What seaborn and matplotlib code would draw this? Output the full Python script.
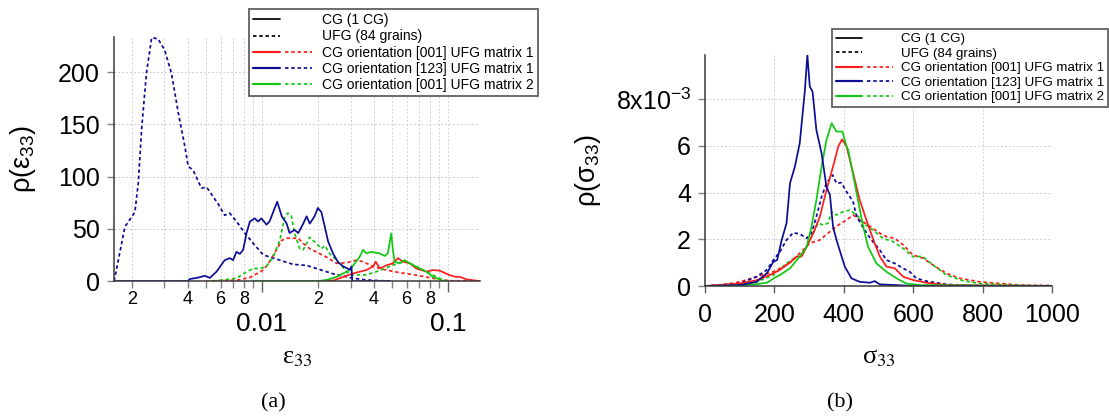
import numpy as np
import pandas as pd
import matplotlib
matplotlib.use("Agg")
import matplotlib.pyplot as plt
import seaborn as sns
from matplotlib.lines import Line2D
from matplotlib.legend_handler import HandlerTuple
from matplotlib.ticker import FixedLocator, FuncFormatter, LogLocator

# ---------------- Panel (a): rho(eps33), log x ----------------
a_blue_dot_x = [0.00161, 0.00184, 0.00208, 0.00217, 0.00226, 0.0024, 0.00256, 0.00277, 0.00301,
                0.00327, 0.00356, 0.00386, 0.00402, 0.00428, 0.00474, 0.00505, 0.00582, 0.00632,
                0.00673, 0.00746, 0.0081, 0.0091, 0.0102, 0.012, 0.0147, 0.0174, 0.0205, 0.0241,
                0.0303, 0.0364, 0.0487]
a_blue_dot_y = [0, 52, 66, 94, 145, 199, 233, 232, 221, 199, 161, 129, 110, 106, 89, 90, 74, 63,
                65, 55, 46, 35, 25, 21, 16, 15, 11, 7, 3, 1, 0]

a_blue_sol_x = [0.00161, 0.004, 0.00411, 0.00447, 0.00495, 0.00526, 0.00571, 0.00632, 0.00673,
                0.00701, 0.00731, 0.00762, 0.00794, 0.00828, 0.00863, 0.00917, 0.00955, 0.00996,
                0.0106, 0.011, 0.0121, 0.0128, 0.0136, 0.0141, 0.015, 0.0157, 0.0167, 0.0174,
                0.0181, 0.0192, 0.02, 0.0209, 0.0218, 0.0227, 0.0242, 0.0257, 0.0274, 0.0297,
                0.0303, 0.0306, 0.0487]
a_blue_sol_y = [0, 0, 2, 3, 5, 3, 9, 20, 22, 20, 28, 26, 30, 46, 57, 60, 57, 60, 54, 57, 76, 62,
                55, 46, 49, 46, 55, 62, 55, 62, 70, 66, 52, 38, 26, 18, 14, 11, 14, 0, 0]

a_red_dot_x = [0.005, 0.0075, 0.00863, 0.0102, 0.011, 0.012, 0.0128, 0.0136, 0.0144, 0.0157,
               0.0167, 0.0181, 0.0196, 0.0222, 0.0252, 0.0285, 0.0322, 0.035, 0.0396, 0.0467,
               0.0551, 0.0676, 0.083, 0.1019, 0.148]
a_red_dot_y = [0, 1, 3.5, 10.5, 18.5, 30, 39, 41, 41, 41, 36, 31, 28, 23, 17, 17.5, 20, 18.5, 14,
               10.5, 8, 5.7, 2.6, 0.3, 0]

a_green_dot_x = [0.0055, 0.0073, 0.0083, 0.009, 0.0098, 0.0106, 0.0115, 0.0125, 0.0133, 0.0138,
                 0.0144, 0.015, 0.016, 0.0167, 0.0174, 0.0181, 0.0196, 0.0209, 0.0218, 0.0232,
                 0.0252, 0.0297, 0.0364, 0.043, 0.0487, 0.0551, 0.0598, 0.0676, 0.0766, 0.0866,
                 0.0938, 0.1]
a_green_dot_y = [0, 2.6, 9, 12, 12, 14, 23, 39, 62, 65, 63, 46, 31, 30, 36, 42, 36, 31, 34, 26,
                 20, 6, 6, 10, 14, 17.5, 18.5, 14, 9, 4, 1, 0]

a_red_sol_x = [0.02, 0.0242, 0.0274, 0.031, 0.0364, 0.0396, 0.0409, 0.043, 0.0467, 0.0506,
               0.0539, 0.0573, 0.0623, 0.0676, 0.0766, 0.083, 0.0902, 0.1019, 0.11, 0.1158,
               0.126, 0.148]
a_red_sol_y = [0, 0.5, 4, 7.4, 10.5, 14, 18.5, 12, 15, 17, 22, 18.5, 17, 12, 9, 10.5, 10, 5.7,
               4.1, 4, 1.6, 0]

a_green_sol_x = [0.009, 0.02, 0.0222, 0.0252, 0.0274, 0.0297, 0.0316, 0.0335, 0.035, 0.0364,
                 0.0387, 0.043, 0.0457, 0.0475, 0.0496, 0.0506, 0.0517, 0.0551, 0.0585, 0.0623,
                 0.0676, 0.0766, 0.083, 0.0938, 0.1]
a_green_sol_y = [0, 0, 1, 4, 7.4, 10.5, 17, 23, 30, 26.5, 28, 26.5, 24, 26.5, 45.7, 30, 18.5, 17,
                 20, 17, 13.7, 9, 4, 0.3, 0]

# ---------------- Panel (b): rho(sigma33), values in units of 1e-3 ----------------
b_blue_sol_x = [0, 100, 149, 178, 197, 208, 221, 235, 245, 259, 273, 288, 295, 302, 310, 321, 336,
                350, 360, 369, 379, 388, 403, 422, 446, 475, 489, 504, 552, 600, 1000]
b_blue_sol_y = [0, 0.04, 0.18, 0.54, 1.04, 1.11, 1.97, 2.69, 4.4, 5.11, 6.11, 8.39, 9.9, 8.54,
                8.32, 6.68, 5.68, 4.25, 3.9, 2.54, 1.97, 1.54, 0.83, 0.33, 0.18, 0.14, 0.21, 0.07,
                0.04, 0.0, 0]

b_blue_dot_x = [0, 101, 149, 178, 197, 216, 235, 254, 273, 293, 307, 321, 336, 350, 368, 379, 393,
                408, 427, 437, 460, 480, 504, 523, 547, 571, 590, 609, 638, 696, 791, 1000]
b_blue_dot_y = [0, 0.11, 0.4, 0.69, 1.11, 1.47, 1.97, 2.28, 2.23, 2.04, 2.26, 2.97, 3.82, 4.4,
                4.75, 4.4, 4.42, 4.04, 3.6, 2.97, 2.4, 1.97, 1.54, 1.11, 0.97, 0.76, 0.61, 0.33,
                0.21, 0.07, 0.01, 0]

b_red_sol_x = [0, 100, 149, 187, 216, 245, 264, 278, 293, 312, 331, 350, 369, 384, 395, 408, 427,
               446, 465, 489, 504, 523, 547, 571, 599, 638, 696, 1000]
b_red_sol_y = [0, 0.11, 0.25, 0.47, 0.69, 1.0, 1.26, 1.26, 1.68, 2.26, 2.97, 4.11, 5.11, 5.97,
               6.28, 5.97, 4.83, 3.68, 2.83, 1.83, 1.26, 0.83, 0.76, 0.4, 0.26, 0.14, 0.04, 0]

b_green_sol_x = [0, 100, 150, 180, 200, 216, 245, 273, 293, 307, 321, 336, 350, 365, 379, 396, 408,
                 413, 437, 456, 470, 494, 523, 552, 580, 619, 1000]
b_green_sol_y = [0, 0.03, 0.08, 0.15, 0.35, 0.47, 0.76, 1.26, 1.68, 2.54, 3.68, 5.11, 6.25, 6.97,
                 6.61, 6.61, 5.97, 5.82, 3.97, 2.54, 1.68, 0.97, 0.61, 0.33, 0.11, 0.04, 0]

b_red_dot_x = [0, 50, 101, 149, 197, 225, 254, 273, 302, 331, 360, 384, 408, 427, 446, 470, 504,
               523, 547, 571, 599, 628, 657, 696, 734, 791, 849, 907, 964, 1000]
b_red_dot_y = [0, 0.05, 0.18, 0.4, 0.61, 0.83, 1.11, 1.4, 1.83, 1.97, 2.33, 2.61, 2.83, 3.04,
               2.83, 2.61, 2.26, 2.11, 2.04, 1.76, 1.33, 1.19, 0.9, 0.54, 0.33, 0.18, 0.11, 0.04,
               0.03, 0.02]

b_green_dot_x = [0, 101, 149, 197, 235, 264, 278, 302, 326, 341, 355, 365, 379, 398, 417, 437, 456,
                 484, 513, 542, 571, 599, 628, 657, 696, 743, 791, 887, 1000]
b_green_dot_y = [0, 0.04, 0.18, 0.47, 0.97, 1.26, 1.26, 1.97, 2.69, 2.61, 2.69, 3.18, 3.04, 3.18,
                 3.25, 3.05, 2.69, 2.4, 2.04, 1.9, 1.61, 1.26, 1.26, 0.9, 0.47, 0.23, 0.11, 0.04, 0]

legend_labels = ["CG (1 CG)", "UFG (84 grains)",
                 "CG orientation [001] UFG matrix 1",
                 "CG orientation [123] UFG matrix 1",
                 "CG orientation [001] UFG matrix 2"]
a_major_labels = {0.01: "0.01", 0.1: "0.1"}
b_xticks = [0, 200, 400, 600, 800, 1000]
b_yticks = [0, 2, 4, 6, 8]
a_yticks = [0, 50, 100, 150, 200]

# ---------------- style ----------------
sns.set_theme(style="ticks")
plt.rcParams['font.family'] = ['Liberation Sans', 'DejaVu Sans']
plt.rcParams['mathtext.fontset'] = 'custom'
plt.rcParams['mathtext.rm'] = 'Liberation Sans'
plt.rcParams['mathtext.it'] = 'Liberation Sans:italic'
plt.rcParams['mathtext.bf'] = 'Liberation Sans:bold'
plt.rcParams['text.color'] = 'black'
plt.rcParams['axes.labelcolor'] = 'black'

RED = "#ff1c1c"
BLUE = "#0c0c96"
GREEN = "#12c812"
DOT = (0, (2.0, 1.6))
LW = 1.25
SPINE = "#3a3a3a"
GRIDC = "#cfcfcf"

fig = plt.figure(figsize=(11.09, 4.17), dpi=100)
axA = fig.add_axes([0.1028, 0.326, 0.330, 0.586])
axB = fig.add_axes([0.6357, 0.3141, 0.3129, 0.554])


def draw(ax, x, y, color, dotted, scale=1.0):
    df = pd.DataFrame({"x": x, "y": np.asarray(y, dtype=float) * scale})
    kw = dict(linestyle=DOT) if dotted else dict(linestyle="-")
    sns.lineplot(data=df, x="x", y="y", ax=ax, color=color, lw=LW, estimator=None,
                 sort=False, legend=False, **kw)


def style_axes(ax):
    for s in ["top", "right"]:
        ax.spines[s].set_visible(False)
    for s in ["left", "bottom"]:
        ax.spines[s].set_color(SPINE)
        ax.spines[s].set_linewidth(1.1)
    ax.set_axisbelow(True)


def add_legend(ax, anchor, fs, hlen, tpad, hpad, lspace):
    handles = [(Line2D([], [], color="black", lw=LW),),
               (Line2D([], [], color="black", lw=LW, linestyle=DOT),)]
    for c in (RED, BLUE, GREEN):
        handles.append((Line2D([], [], color=c, lw=LW + 0.3),
                        Line2D([], [], color=c, lw=LW, linestyle=DOT)))
    leg = ax.legend(handles, legend_labels, loc="upper left", bbox_to_anchor=anchor,
                    borderaxespad=0, fontsize=fs, handlelength=hlen, handletextpad=tpad,
                    labelspacing=lspace, borderpad=0.3, frameon=True, fancybox=False,
                    framealpha=1, edgecolor="#606060",
                    handler_map={tuple: HandlerTuple(ndivide=2, pad=hpad)})
    leg.get_frame().set_linewidth(1.3)
    for t in leg.get_texts():
        t.set_color("black")
    return leg


# ---------------- Panel (a) ----------------
axA.set_xscale("log")
style_axes(axA)
draw(axA, a_blue_dot_x, a_blue_dot_y, BLUE, True)
draw(axA, a_red_dot_x, a_red_dot_y, RED, True)
draw(axA, a_green_dot_x, a_green_dot_y, GREEN, True)
draw(axA, a_red_sol_x, a_red_sol_y, RED, False)
draw(axA, a_green_sol_x, a_green_sol_y, GREEN, False)
draw(axA, a_blue_sol_x, a_blue_sol_y, BLUE, False)
axA.set_xlim(0.001607, 0.1486)
axA.set_ylim(0, 234)
axA.xaxis.set_major_locator(FixedLocator(list(a_major_labels.keys())))
axA.xaxis.set_major_formatter(FuncFormatter(lambda v, p: a_major_labels.get(round(v, 4), "")))
axA.xaxis.set_minor_locator(LogLocator(base=10, subs=(2, 3, 4, 5, 6, 7, 8, 9), numticks=20))


def minor_fmt(v, p):
    m = v / 10 ** np.floor(np.log10(v) + 1e-9)
    d = int(round(m))
    return str(d) if d in (2, 4, 6, 8) else ""


axA.xaxis.set_minor_formatter(FuncFormatter(minor_fmt))
axA.set_yticks(a_yticks)
axA.tick_params(axis="y", labelsize=18, length=5, width=1, color="#808080", labelcolor="black", pad=5)
axA.tick_params(axis="x", which="major", labelsize=19, length=8, width=1, color="#606060",
                labelcolor="black", pad=14)
axA.tick_params(axis="x", which="minor", labelsize=13, length=5, width=1, color="#808080",
                labelcolor="black", pad=2.5)
axA.grid(True, which="both", axis="x", color=GRIDC, lw=0.7, linestyle=(0, (2, 2)))
axA.grid(True, which="major", axis="y", color=GRIDC, lw=0.7, linestyle=(0, (2, 2)))
axA.set_ylabel("ρ(ε$_{33}$)", fontsize=19.5)
axA.yaxis.label.set_va("center")
axA.yaxis.set_label_coords(-0.249, 0.5)
axA.set_xlabel("ε$_{33}$", fontsize=19, fontfamily="Liberation Serif", math_fontfamily="stix")
axA.xaxis.label.set_va("center")
axA.xaxis.set_label_coords(0.5, -0.315)
add_legend(axA, (0.369, 1.113), 10, 4.25, 0.72, 0.34, 0.16)

# ---------------- Panel (b) ----------------
style_axes(axB)
draw(axB, b_red_dot_x, b_red_dot_y, RED, True, 1e-3)
draw(axB, b_green_dot_x, b_green_dot_y, GREEN, True, 1e-3)
draw(axB, b_blue_dot_x, b_blue_dot_y, BLUE, True, 1e-3)
draw(axB, b_red_sol_x, b_red_sol_y, RED, False, 1e-3)
draw(axB, b_green_sol_x, b_green_sol_y, GREEN, False, 1e-3)
draw(axB, b_blue_sol_x, b_blue_sol_y, BLUE, False, 1e-3)
axB.set_xlim(0, 1000)
axB.set_ylim(0, 9.89e-3)
axB.set_xticks(b_xticks)
axB.set_yticks([v * 1e-3 for v in b_yticks])


def b_yfmt(v, p):
    k = int(round(v * 1e3))
    if k == 8:
        return "8x10$^{-3}$"
    return str(k)


axB.yaxis.set_major_formatter(FuncFormatter(b_yfmt))
axB.tick_params(axis="y", labelsize=18, length=5, width=1, color="#808080", labelcolor="black", pad=5)
axB.tick_params(axis="x", labelsize=18, length=5, width=1, color="#606060", labelcolor="black", pad=7)
axB.grid(True, which="major", color=GRIDC, lw=0.7, linestyle=(0, (2, 2)))
axB.set_ylabel("ρ(σ$_{33}$)", fontsize=19.5)
axB.yaxis.label.set_va("center")
axB.yaxis.set_label_coords(-0.337, 0.5)
axB.set_xlabel("σ$_{33}$", fontsize=19, fontfamily="Liberation Serif", math_fontfamily="stix")
axB.xaxis.label.set_va("center")
axB.xaxis.set_label_coords(0.5, -0.312)
add_legend(axB, (0.366, 1.1126), 9.6, 4.3, 0.56, 0.34, 0.16)

fig.text(273 / 1109, 1 - 403 / 417, "(a)", fontsize=16, fontfamily="Liberation Serif",
         ha="center", va="center")
fig.text(840 / 1109, 1 - 403 / 417, "(b)", fontsize=16, fontfamily="Liberation Serif",
         ha="center", va="center")

fig.savefig("out.png", dpi=100)
